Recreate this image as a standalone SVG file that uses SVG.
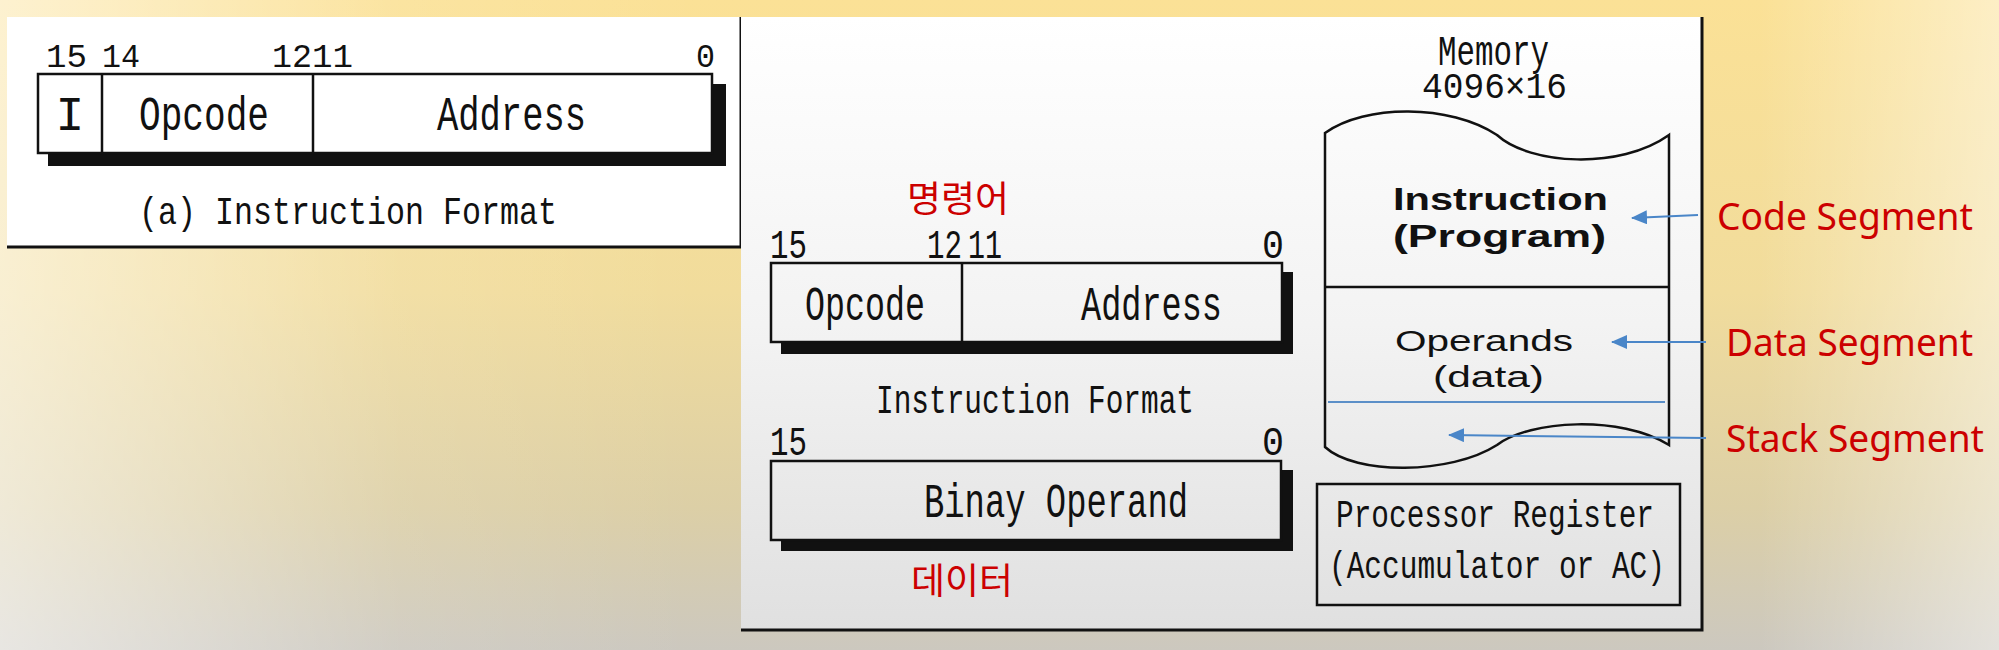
<svg xmlns="http://www.w3.org/2000/svg" width="1999" height="650" viewBox="0 0 1999 650">
<defs>
<linearGradient id="bgV" x1="0" y1="0" x2="0" y2="1">
<stop offset="0" stop-color="#fbe196"/>
<stop offset="0.45" stop-color="#f1dc9c"/>
<stop offset="0.78" stop-color="#dccfa6"/>
<stop offset="1" stop-color="#ccc8bf"/>
</linearGradient>
<linearGradient id="bgH" x1="0" y1="0" x2="1" y2="0">
<stop offset="0" stop-color="#ffffff" stop-opacity="0.55"/>
<stop offset="0.2" stop-color="#ffffff" stop-opacity="0.1"/>
<stop offset="0.35" stop-color="#ffffff" stop-opacity="0"/>
<stop offset="0.88" stop-color="#ffffff" stop-opacity="0"/>
<stop offset="1" stop-color="#ffffff" stop-opacity="0.45"/>
</linearGradient>
<linearGradient id="panelG" gradientUnits="userSpaceOnUse" x1="0" y1="17" x2="0" y2="630">
<stop offset="0" stop-color="#ffffff"/>
<stop offset="0.5" stop-color="#f3f3f3"/>
<stop offset="1" stop-color="#e0e0e0"/>
</linearGradient>
<marker id="ah" viewBox="0 0 16 14" refX="15" refY="7" markerWidth="16" markerHeight="14" markerUnits="userSpaceOnUse" orient="auto">
<path d="M0,0 L16,7 L0,14 Z" fill="#4a86c8"/>
</marker>
<style>
.bm{font-family:"Liberation Mono","DejaVu Sans Mono",monospace;fill:#111;}
.ss{font-family:"Liberation Sans",Arial,sans-serif;fill:#111;}
.red{font-family:"Noto Sans","Noto Sans CJK KR",sans-serif;fill:#cc0000;}
.kr{font-family:"Noto Sans CJK KR",sans-serif;fill:#cc0000;}
.box{stroke:#111;stroke-width:2.5;}
.shadow{fill:#111;}
.edge{stroke:#111;stroke-width:3;fill:none;}
.ln{stroke:#111;stroke-width:2.5;fill:none;}
.arrow{stroke:#4a86c8;stroke-width:2;fill:none;marker-end:url(#ah);}
</style>
</defs>

<rect x="0" y="0" width="1999" height="650" fill="url(#bgV)"/>
<rect x="0" y="0" width="1999" height="650" fill="url(#bgH)"/>

<g id="panel-a">
<rect x="7" y="17" width="735" height="230" fill="#ffffff"/>
<path class="edge" d="M741,17 L741,247 L7,247"/>
<text class="bm" y="67" font-size="33"><tspan x="46" textLength="41" lengthAdjust="spacingAndGlyphs">15</tspan><tspan x="102" textLength="38" lengthAdjust="spacingAndGlyphs">14</tspan><tspan x="272" textLength="40" lengthAdjust="spacingAndGlyphs">12</tspan><tspan x="312" textLength="41" lengthAdjust="spacingAndGlyphs">11</tspan><tspan x="696" textLength="19" lengthAdjust="spacingAndGlyphs">0</tspan></text>
<rect class="shadow" x="48" y="84" width="678" height="82"/>
<rect class="box" x="38" y="74" width="674" height="79" fill="#ffffff"/>
<line class="ln" x1="102" y1="74" x2="102" y2="153"/>
<line class="ln" x1="313" y1="74" x2="313" y2="153"/>
<text class="bm" x="70" y="130" font-size="48" text-anchor="middle">I</text>
<text class="bm" x="139" y="130" font-size="48" textLength="130" lengthAdjust="spacingAndGlyphs">Opcode</text>
<text class="bm" x="437" y="130" font-size="48" textLength="149" lengthAdjust="spacingAndGlyphs">Address</text>
<text class="bm" x="139" y="224" font-size="39" textLength="418" lengthAdjust="spacingAndGlyphs">(a) Instruction Format</text>
</g>

<g id="panel-b">
<rect x="741" y="17" width="962" height="613" fill="url(#panelG)"/>
<path class="edge" d="M1702,17 L1702,630 L741,630"/>
</g>

<g id="instruction-format">
<text class="kr" x="907" y="212" font-size="36" textLength="102" lengthAdjust="spacingAndGlyphs">명령어</text>
<text class="bm" y="258" font-size="41"><tspan x="770" textLength="37" lengthAdjust="spacingAndGlyphs">15</tspan><tspan x="927" textLength="35" lengthAdjust="spacingAndGlyphs">12</tspan><tspan x="968" textLength="34" lengthAdjust="spacingAndGlyphs">11</tspan><tspan x="1262" textLength="22" lengthAdjust="spacingAndGlyphs">0</tspan></text>
<rect class="shadow" x="781" y="272" width="512" height="82"/>
<rect class="box" x="771" y="263" width="511" height="79" fill="url(#panelG)"/>
<line class="ln" x1="962" y1="263" x2="962" y2="342"/>
<text class="bm" x="805" y="320" font-size="48" textLength="120" lengthAdjust="spacingAndGlyphs">Opcode</text>
<text class="bm" x="1081" y="320" font-size="48" textLength="141" lengthAdjust="spacingAndGlyphs">Address</text>
<text class="bm" x="876" y="413" font-size="40" textLength="318" lengthAdjust="spacingAndGlyphs">Instruction Format</text>
</g>

<g id="binary-operand">
<text class="bm" y="455" font-size="41"><tspan x="770" textLength="37" lengthAdjust="spacingAndGlyphs">15</tspan><tspan x="1262" textLength="22" lengthAdjust="spacingAndGlyphs">0</tspan></text>
<rect class="shadow" x="781" y="470" width="512" height="81"/>
<rect class="box" x="771" y="461" width="510" height="79" fill="url(#panelG)"/>
<text class="bm" x="924" y="517" font-size="48" textLength="264" lengthAdjust="spacingAndGlyphs">Binay Operand</text>
<text class="kr" x="911" y="594" font-size="36" textLength="102" lengthAdjust="spacingAndGlyphs">데이터</text>
</g>

<g id="memory">
<text class="bm"><tspan x="1438" y="65" font-size="43" textLength="111" lengthAdjust="spacingAndGlyphs">Memory</tspan><tspan x="1422" y="98" font-size="37" textLength="145" lengthAdjust="spacingAndGlyphs">4096×16</tspan></text>
<path class="ln" d="M1325,133 C1365,104 1450,104 1497,135 C1530,165 1620,170 1669,135 L1669,445 C1620,415 1530,420 1497,445 C1450,475 1355,475 1325,447 Z"/>
<line class="ln" x1="1325" y1="287" x2="1669" y2="287"/>
<line x1="1328" y1="402" x2="1665" y2="402" stroke="#5b8fc8" stroke-width="1.8"/>
<text class="ss" x="1393" y="210" font-size="31" font-weight="bold" textLength="215" lengthAdjust="spacingAndGlyphs">Instruction</text>
<text class="ss" x="1393" y="247" font-size="31" font-weight="bold" textLength="213" lengthAdjust="spacingAndGlyphs">(Program)</text>
<text class="ss" x="1395" y="351" font-size="29" textLength="178" lengthAdjust="spacingAndGlyphs">Operands</text>
<text class="ss" x="1433" y="387" font-size="29" textLength="111" lengthAdjust="spacingAndGlyphs">(data)</text>
</g>

<g id="processor-register">
<rect x="1317" y="484" width="363" height="121" fill="none" stroke="#111" stroke-width="2.5"/>
<text class="bm" x="1336" y="527" font-size="38" textLength="318" lengthAdjust="spacingAndGlyphs">Processor Register</text>
<text class="bm" x="1329" y="578" font-size="38" textLength="336" lengthAdjust="spacingAndGlyphs">(Accumulator or AC)</text>
</g>

<g id="segment-labels">
<text class="red" x="1717" y="230" font-size="38" textLength="256" lengthAdjust="spacingAndGlyphs">Code Segment</text>
<text class="red" x="1726" y="356" font-size="38" textLength="247" lengthAdjust="spacingAndGlyphs">Data Segment</text>
<text class="red" x="1726" y="452" font-size="38" textLength="258" lengthAdjust="spacingAndGlyphs">Stack Segment</text>
</g>

<g id="connectors">
<line class="arrow" x1="1698" y1="215" x2="1632" y2="218"/>
<line class="arrow" x1="1706" y1="342" x2="1612" y2="342"/>
<line class="arrow" x1="1706" y1="438" x2="1449" y2="435"/>
</g>
</svg>
